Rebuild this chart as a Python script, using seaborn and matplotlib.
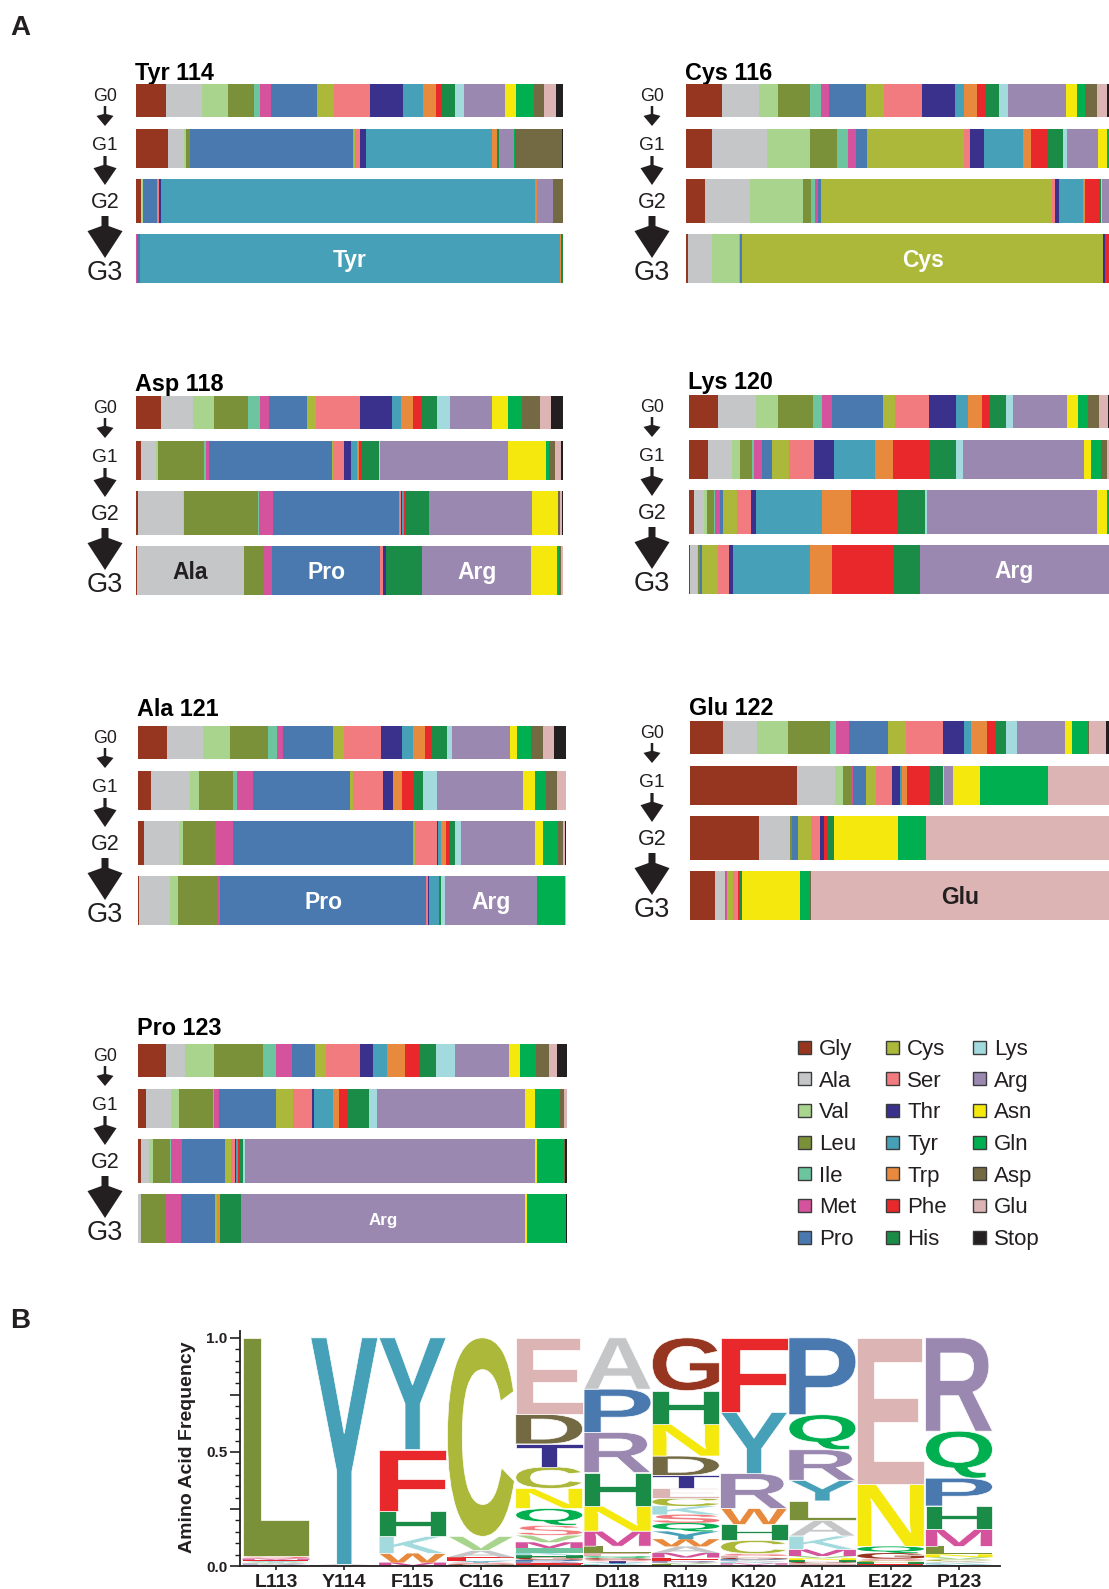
import matplotlib
matplotlib.use("Agg")
import numpy as np
import matplotlib.pyplot as plt
import seaborn as sns
from matplotlib.patches import Polygon, Rectangle, PathPatch
from matplotlib.textpath import TextPath
from matplotlib.font_manager import FontProperties
from matplotlib.transforms import Affine2D

sns.set_theme(style="ticks")
plt.rcParams["font.family"] = ["Liberation Sans", "DejaVu Sans"]

# ---------------------------------------------------------------- data
AMINO_ACIDS = ["Gly", "Ala", "Val", "Leu", "Ile", "Met", "Pro", "Cys", "Ser", "Thr",
               "Tyr", "Trp", "Phe", "His", "Lys", "Arg", "Asn", "Gln", "Asp", "Glu", "Stop"]
ONE_LETTER = ["G", "A", "V", "L", "I", "M", "P", "C", "S", "T",
              "Y", "W", "F", "H", "K", "R", "N", "Q", "D", "E", "*"]
AA_COLORS = ["#963520", "#C5C6C8", "#A8D48D", "#7A913A", "#6DC5A0", "#D4539C", "#4A79B0",
             "#ACB839", "#F27B7F", "#3A318C", "#45A0B8", "#E88A3D", "#E8282A", "#1A8C48",
             "#A3DADD", "#9B88B0", "#F4E80D", "#00B050", "#736A43", "#DDB4B4", "#231F20"]
GENERATIONS = ["G0", "G1", "G2", "G3"]

# percent of library per amino acid (order of AMINO_ACIDS), generations G0..G3
TYR114 = [
    [7.1, 8.4, 6.1, 6.1, 1.4, 2.6, 10.8, 4.0, 8.4, 7.7, 4.7, 3.0, 1.2, 3.3, 2.1, 9.6, 2.6, 4.1, 2.5, 2.8, 1.6],
    [7.6, 3.7, 0.5, 0.6, 0.1, 0.3, 38.1, 0.6, 1.2, 1.4, 29.5, 1.2, 0.2, 0.2, 0, 3.7, 0, 0.2, 11.0, 0, 0.2],
    [1.2, 0.2, 0.2, 0, 0, 0, 3.3, 0, 0.5, 0.5, 87.6, 0.5, 0, 0, 0, 3.7, 0, 0, 2.3, 0, 0],
    [0, 0, 0, 0, 0, 0.3, 0.7, 0, 0, 0, 98.2, 0.3, 0, 0.5, 0, 0, 0, 0, 0, 0, 0],
]
CYS116 = [
    [8.5, 8.7, 4.5, 7.6, 2.6, 1.9, 8.7, 4.3, 9.0, 7.8, 2.1, 3.1, 1.9, 3.3, 2.1, 13.7, 2.6, 1.9, 2.8, 2.4, 0.5],
    [6.1, 13.0, 10.2, 6.4, 2.6, 1.7, 2.8, 22.9, 1.4, 3.3, 9.0, 2.1, 4.0, 3.5, 0.9, 7.3, 2.1, 0.5, 0, 0, 0],
    [4.5, 10.6, 12.5, 1.9, 0.9, 0.7, 0.9, 54.4, 0.7, 0.9, 5.7, 0.5, 3.3, 0.5, 0.2, 1.7, 0, 0, 0, 0, 0],
    [0.5, 5.7, 6.4, 0, 0.2, 0, 0.5, 85.3, 0, 0.5, 0, 0, 0.9, 0, 0, 0, 0, 0, 0, 0, 0],
]
ASP118 = [
    [5.9, 7.5, 4.9, 8.0, 2.6, 2.3, 8.7, 2.3, 10.1, 7.5, 2.3, 2.6, 2.1, 3.7, 3.0, 9.8, 3.7, 3.3, 4.2, 2.6, 2.8],
    [1.2, 3.5, 0.5, 10.8, 0.5, 0.5, 29.0, 0.2, 2.6, 1.6, 1.4, 0.5, 0.5, 4.2, 0.2, 30.0, 8.9, 0.7, 1.4, 1.4, 0.5],
    [0.5, 10.5, 0.2, 17.5, 0.2, 3.3, 29.4, 0, 0.5, 0.2, 0.5, 0, 0.5, 5.4, 0, 24.1, 6.1, 0, 0.5, 0.5, 0.2],
    [0.2, 25.1, 0, 4.7, 0, 1.9, 25.3, 0, 0.7, 0.7, 0, 0, 0, 8.2, 0.2, 25.5, 5.9, 0.5, 0.5, 0.5, 0],
]
LYS120 = [
    [6.9, 9.0, 5.2, 8.3, 2.1, 2.4, 12.1, 2.9, 8.1, 6.4, 2.9, 3.3, 1.9, 3.8, 1.7, 12.9, 2.6, 2.4, 2.6, 2.1, 0.2],
    [4.5, 5.7, 1.9, 2.9, 0.5, 1.9, 2.4, 4.0, 6.0, 4.8, 9.8, 4.3, 8.6, 6.4, 1.7, 28.8, 1.7, 2.4, 1.4, 0.5, 0],
    [1.2, 2.4, 0.7, 1.7, 0.2, 1.2, 0.7, 3.3, 3.3, 1.2, 15.7, 6.9, 11.2, 6.4, 0.5, 40.5, 2.4, 0.5, 0, 0, 0],
    [0.2, 1.7, 0.2, 0.5, 0, 0, 0.5, 3.8, 2.6, 1.0, 18.3, 5.2, 14.8, 6.2, 0, 45.0, 0, 0, 0, 0, 0],
]
ALA121 = [
    [6.7, 8.4, 6.3, 8.9, 2.1, 1.6, 11.5, 2.6, 8.7, 4.9, 2.6, 2.8, 1.6, 3.5, 1.2, 13.6, 1.6, 3.3, 2.8, 2.6, 2.8],
    [3.0, 9.1, 2.1, 8.0, 0.9, 3.7, 22.7, 0.7, 7.0, 2.3, 0, 2.1, 3.0, 1.9, 3.3, 20.1, 2.8, 2.6, 2.6, 2.1, 0],
    [1.3, 8.2, 0.9, 7.7, 0, 4.0, 42.1, 0.5, 5.1, 0.3, 0.6, 1.2, 0.7, 1.4, 1.4, 17.3, 1.9, 3.5, 1.2, 0.5, 0.2],
    [0.2, 7.2, 1.9, 9.1, 0, 0.7, 48.2, 0, 0.5, 0.2, 2.3, 0, 0, 0.5, 0.9, 21.5, 0, 6.5, 0, 0.2, 0],
]
GLU122 = [
    [7.9, 8.1, 7.4, 10.0, 1.4, 3.1, 9.3, 4.3, 8.8, 5.0, 1.7, 3.8, 2.1, 2.4, 2.6, 11.5, 1.7, 3.8, 0.2, 4.1, 0.7],
    [25.5, 9.1, 1.9, 2.1, 0, 0.2, 3.1, 2.4, 3.8, 1.9, 0.5, 1.2, 5.3, 3.3, 0.2, 2.1, 6.4, 16.2, 0, 14.6, 0],
    [16.5, 7.4, 0, 0.5, 0, 0, 1.4, 3.1, 2.1, 1.0, 0, 0, 0.7, 1.7, 0, 0, 15.3, 6.7, 0, 43.7, 0],
    [6.0, 2.4, 0, 0, 0, 0.5, 0, 1.4, 1.2, 0, 0, 0, 0.5, 0.5, 0, 0, 13.8, 2.4, 0.2, 71.1, 0],
]
PRO123 = [
    [6.6, 4.4, 6.6, 11.5, 3.0, 3.7, 5.4, 2.6, 8.0, 3.0, 3.3, 4.0, 3.3, 4.0, 4.4, 12.6, 2.6, 3.7, 3.0, 1.9, 2.3],
    [1.9, 5.8, 1.9, 7.9, 0.2, 1.2, 13.3, 4.0, 4.4, 0.5, 4.4, 1.2, 1.9, 5.1, 1.9, 34.6, 2.3, 5.8, 0.9, 0.7, 0],
    [0.7, 1.9, 0.9, 4.0, 0.2, 2.6, 10.0, 1.4, 0.9, 0.2, 0.5, 0, 0.2, 0.9, 0.5, 67.6, 0.5, 6.3, 0.2, 0, 0.5],
    [0, 0.7, 0, 5.6, 0, 3.7, 8.0, 0.5, 0, 0, 0, 0.5, 0, 4.9, 0, 66.3, 0.5, 9.1, 0, 0, 0.2],
]

# sequence logo: residue frequencies at each selected position
LOGO_POSITIONS = ["L113", "Y114", "F115", "C116", "E117", "D118", "R119", "K120", "A121", "E122", "P123"]
LOGO_L113 = {"L": 0.955, "S": 0.012, "F": 0.006, "M": 0.006, "R": 0.005, "V": 0.005, "Y": 0.005, "P": 0.003, "A": 0.003}
LOGO_Y114 = {"Y": 0.993, "A": 0.004, "D": 0.003}
LOGO_F115 = {"Y": 0.49, "F": 0.27, "H": 0.11, "K": 0.075, "W": 0.04, "M": 0.015}
LOGO_C116 = {"C": 0.87, "V": 0.062, "A": 0.03, "F": 0.015, "Y": 0.008, "H": 0.005, "G": 0.005, "S": 0.005}
LOGO_E117 = {"E": 0.335, "D": 0.13, "T": 0.10, "C": 0.095, "N": 0.088, "Q": 0.074, "S": 0.044, "V": 0.03,
             "M": 0.025, "I": 0.02, "K": 0.012, "G": 0.01, "H": 0.01, "F": 0.008, "R": 0.008, "P": 0.008, "L": 0.003}
LOGO_D118 = {"A": 0.225, "P": 0.19, "R": 0.176, "H": 0.147, "N": 0.11, "M": 0.066, "L": 0.032, "E": 0.012,
             "G": 0.008, "Q": 0.008, "Y": 0.006, "T": 0.006, "S": 0.006, "K": 0.005, "D": 0.004}
LOGO_R119 = {"G": 0.232, "H": 0.147, "N": 0.14, "D": 0.085, "T": 0.054, "E": 0.044, "Q": 0.037, "S": 0.037,
             "K": 0.037, "C": 0.037, "W": 0.032, "Y": 0.034, "A": 0.029, "M": 0.02, "F": 0.015, "R": 0.008,
             "L": 0.007, "V": 0.007}
LOGO_K120 = {"F": 0.328, "Y": 0.269, "R": 0.153, "H": 0.07, "W": 0.07, "C": 0.059, "S": 0.01, "E": 0.008,
             "T": 0.006, "M": 0.006, "K": 0.006, "A": 0.006, "P": 0.006, "G": 0.006}
LOGO_A121 = {"P": 0.338, "Q": 0.154, "R": 0.134, "Y": 0.091, "L": 0.085, "A": 0.069, "K": 0.059, "M": 0.029,
             "V": 0.01, "H": 0.008, "N": 0.008, "S": 0.006, "E": 0.006, "G": 0.006}
LOGO_E122 = {"E": 0.642, "N": 0.272, "Q": 0.029, "G": 0.025, "C": 0.008, "S": 0.008, "F": 0.006, "H": 0.006, "V": 0.004}
LOGO_P123 = {"R": 0.409, "Q": 0.206, "P": 0.122, "H": 0.103, "M": 0.074, "L": 0.035, "N": 0.012, "V": 0.01,
             "C": 0.008, "Y": 0.007, "K": 0.007, "A": 0.007}
LOGO_COLUMNS = [LOGO_L113, LOGO_Y114, LOGO_F115, LOGO_C116, LOGO_E117, LOGO_D118,
                LOGO_R119, LOGO_K120, LOGO_A121, LOGO_E122, LOGO_P123]

# ---------------------------------------------------------------- layout
W, H = 1109, 1589
INK = "#231F20"
fig = plt.figure(figsize=(W / 100, H / 100), dpi=100)
fig.patch.set_facecolor("white")


def rect(x0, y0, x1, y1):
    return [x0 / W, 1 - y1 / H, (x1 - x0) / W, (y1 - y0) / H]


def ctext(ax, x, y, s, fs, **kw):
    """Text whose capital letters are vertically centred on y (y grows downward)."""
    ax.text(x, y + 0.358 * fs * 100 / 72, s, fontsize=fs, va="baseline", **kw)


def arrow(ax, cx, y0, y_tip, head_len, head_w, shaft_w):
    yj = y_tip - head_len
    yc = yj + 0.16 * head_len
    hw, sw = head_w / 2, shaft_w / 2
    pts = [(cx - sw, y0), (cx + sw, y0), (cx + sw, yj), (cx + hw, yc), (cx, y_tip),
           (cx - hw, yc), (cx - sw, yj)]
    ax.add_patch(Polygon(pts, closed=True, facecolor=INK, edgecolor="none"))


canvas = fig.add_axes([0, 0, 1, 1])
canvas.set_xlim(0, W)
canvas.set_ylim(H, 0)
canvas.axis("off")
canvas.patch.set_alpha(0)

ctext(canvas, 20, 25, "A", 20, fontweight="bold", ha="center", color=INK)
ctext(canvas, 20, 1318, "B", 20, fontweight="bold", ha="center", color=INK)

# ---------------------------------------------------------------- panel A
ROW_TOP = [0, 45, 95, 150]
ROW_H = [33, 39, 44, 49]
G_FONT = [12.8, 13.8, 15.5, 19.5]
G_Y = [11, 59, 116, 186]
ARROWS = [(22, 42, 12, 17, 2.5), (72, 101, 20, 23, 3.2), (132, 174, 32, 35, 7)]

PANELS = [
    ("Tyr 114", TYR114, (136, 84, 563), 72, [("Tyr", "white", 16.5)]),
    ("Cys 116", CYS116, (686, 84, 1109), 72, [("Cys", "white", 16.5)]),
    ("Asp 118", ASP118, (136, 396, 563), 383, [("Ala", INK, 16.5), ("Pro", "white", 16.5), ("Arg", "white", 16.5)]),
    ("Lys 120", LYS120, (689, 395, 1109), 381, [("Arg", "white", 16.5)]),
    ("Ala 121", ALA121, (138, 726, 566), 708, [("Pro", "white", 16.5), ("Arg", "white", 16.5)]),
    ("Glu 122", GLU122, (690, 721, 1109), 707, [("Glu", INK, 16.5)]),
    ("Pro 123", PRO123, (138, 1044, 567), 1027, [("Arg", "white", 12.2)]),
]

for title, rows, (x0, y0, x1), ty, labels in PANELS:
    ax = fig.add_axes(rect(x0, y0, x1, y0 + 199))
    ax.set_xlim(0, 100)
    ax.set_ylim(199, 0)
    ax.axis("off")
    for g, vals in enumerate(rows):
        v = np.asarray(vals, float)
        v = v / v.sum() * 100
        left = np.concatenate([[0], np.cumsum(v)[:-1]])
        ax.barh(np.full(len(v), ROW_TOP[g] + ROW_H[g] / 2), v, left=left,
                height=ROW_H[g], color=AA_COLORS, linewidth=0)
        if g == 3:
            for aa, col, fs in labels:
                i = AMINO_ACIDS.index(aa)
                ctext(ax, left[i] + v[i] / 2, ROW_TOP[3] + ROW_H[3] / 2, aa, fs,
                      color=col, fontweight="bold", ha="center")
    ctext(canvas, x0 - 1, ty, title, 16.8, fontweight="bold", ha="left", color="black")
    gx = 105 if x0 < 400 else 652
    for g, gen in enumerate(GENERATIONS):
        ctext(canvas, gx, y0 + G_Y[g], gen, G_FONT[g], ha="center", color=INK)
    for a0, tip, hl, hw, sw in ARROWS:
        arrow(canvas, gx, y0 + a0, y0 + tip, hl, hw, sw)

# legend
LEG_X = [798, 886, 973]
LEG_Y0, LEG_DY = 1047, 31.7
for k, (aa, c) in enumerate(zip(AMINO_ACIDS, AA_COLORS)):
    col, row = divmod(k, 7)
    sx, sy = LEG_X[col], LEG_Y0 + row * LEG_DY
    canvas.add_patch(Rectangle((sx, sy - 6.5), 13, 13, facecolor=c, edgecolor="#3b3b3b", linewidth=1))
    ctext(canvas, sx + 21, sy, aa, 16, ha="left", color=INK)

# ---------------------------------------------------------------- panel B
lax = fig.add_axes(rect(240, 1331, 1000, 1566))
lax.set_xlim(-0.527, 10.6)
lax.set_ylim(0, 1.03)
lax.patch.set_alpha(0)
fp = FontProperties(family="Liberation Sans", weight="bold")
LETTER_W = 0.98
for i, column in enumerate(LOGO_COLUMNS):
    total = sum(column.values())
    y = 0.0
    for letter, f in sorted(column.items(), key=lambda kv: kv[1]):
        h = f / total
        path = TextPath((0, 0), letter, size=1, prop=fp)
        ext = path.get_extents()
        tr = (Affine2D().translate(-ext.x0, -ext.y0)
              .scale(LETTER_W / ext.width, h / ext.height)
              .translate(i - LETTER_W / 2, y))
        lax.add_patch(PathPatch(tr.transform_path(path),
                                facecolor=AA_COLORS[ONE_LETTER.index(letter)],
                                edgecolor="white", linewidth=0.5 if h > 0.04 else 0))
        y += h

sns.despine(ax=lax)
for side in ("left", "bottom"):
    lax.spines[side].set_linewidth(1.3)
    lax.spines[side].set_color(INK)
lax.set_xticks(range(len(LOGO_POSITIONS)))
lax.set_xticklabels(LOGO_POSITIONS, fontsize=14, fontweight="bold", color=INK)
lax.set_yticks([0, 0.25, 0.5, 0.75, 1.0])
lax.set_yticklabels(["0.0", "", "0.5", "", "1.0"], fontsize=11, fontweight="bold", color=INK)
lax.set_yticks(np.arange(0, 1.001, 0.05), minor=True)
lax.tick_params(axis="x", which="major", direction="out", length=3, width=1.2, color=INK, pad=2.5)
lax.tick_params(axis="y", which="major", direction="out", length=7, width=1.2, color=INK, pad=2)
lax.tick_params(axis="y", which="minor", direction="out", length=3.5, width=1, color=INK)
lax.grid(False)
canvas.text(188, 1447, "Amino Acid Frequency", rotation=90, fontsize=14, fontweight="bold",
            ha="center", va="center", color=INK)

fig.savefig("out.png", dpi=100, facecolor="white")
